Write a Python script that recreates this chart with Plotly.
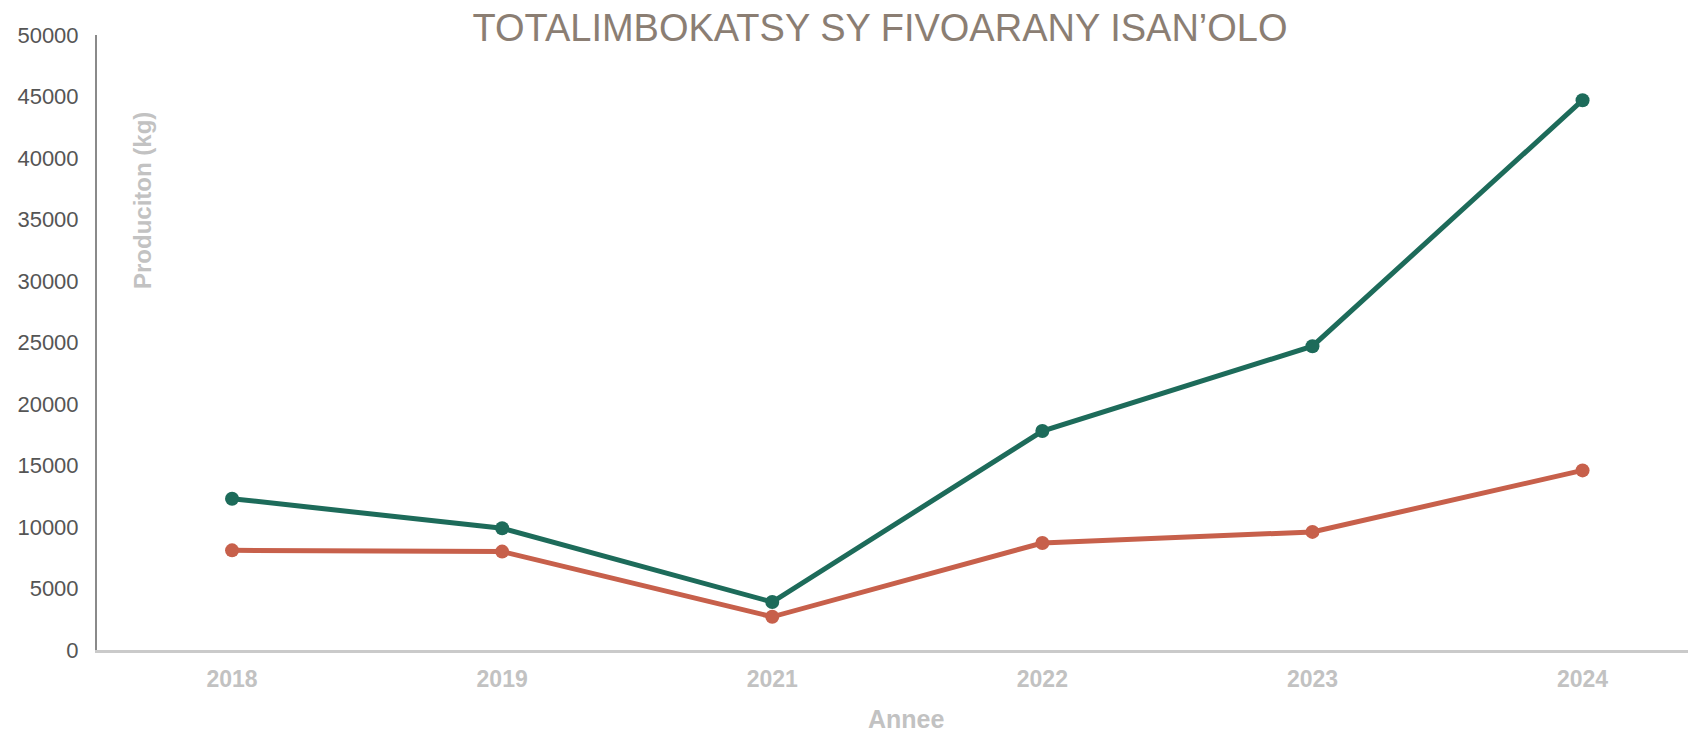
import plotly.graph_objects as go

GREEN = "#1d6b5a"
RED = "#c7604b"
TITLE_COLOR = "#8b7e73"
LIGHT_GREY = "#c2c2c2"

years = ["2018", "2019", "2021", "2022", "2023", "2024"]
total_production = [12300, 9900, 3900, 17800, 24700, 44700]
sold_production = [8100, 8000, 2700, 8700, 9600, 14600]

# the page body keeps the browser's 8px margin, so the figure is a bit smaller
W, H = 1688, 726
L, R, T, B = 89, 0, 27, 84
PW, PH = W - L - R, H - T - B

fig = go.Figure()
fig.add_trace(
    go.Scatter(
        x=years, y=total_production, mode="lines+markers", name="Total",
        line=dict(color=GREEN, width=5),
        marker=dict(size=14, color=GREEN),
    )
)
fig.add_trace(
    go.Scatter(
        x=years, y=sold_production, mode="lines+markers", name="Fivoarany",
        line=dict(color=RED, width=5),
        marker=dict(size=14, color=RED),
    )
)

fig.update_layout(
    width=W, height=H,
    margin=dict(l=L, r=R, t=T, b=B),
    paper_bgcolor="white",
    plot_bgcolor="white",
    showlegend=False,
    font=dict(family="Liberation Sans, Arial, sans-serif"),
    title=dict(
        text="TOTALIMBOKATSY SY FIVOARANY ISAN’OLO",
        font=dict(size=38, color=TITLE_COLOR),
        x=872 / W, xref="container", xanchor="center",
        y=1 - 20 / H, yref="container", yanchor="middle",
    ),
    xaxis=dict(
        type="category",
        range=[-0.5, 5.42],
        showgrid=False, zeroline=False,
        showline=True, linecolor="#cacaca", linewidth=3,
        ticks="", ticklabelstandoff=6,
        tickfont=dict(size=23, color=LIGHT_GREY, weight="bold"),
    ),
    yaxis=dict(
        range=[0, 50000],
        tickvals=list(range(0, 50001, 5000)),
        tickformat="d",
        showgrid=False, zeroline=False,
        showline=True, linecolor="#8a8a8a", linewidth=2,
        ticks="", ticklabelstandoff=12,
        tickfont=dict(size=22, color="#555555"),
    ),
    annotations=[
        dict(
            text="Produciton (kg)", textangle=-90,
            xref="paper", yref="paper",
            x=(134 - L) / PW, y=1 - (193 - T) / PH,
            xanchor="center", yanchor="middle", showarrow=False,
            font=dict(size=24, color=LIGHT_GREY, weight="bold"),
        ),
        dict(
            text="Annee",
            xref="paper", yref="paper",
            x=(899 - L) / PW, y=-(711 - (H - B)) / PH,
            xanchor="center", yanchor="middle", showarrow=False,
            font=dict(size=25, color=LIGHT_GREY, weight="bold"),
        ),
    ],
)

fig.write_html("out.html")
